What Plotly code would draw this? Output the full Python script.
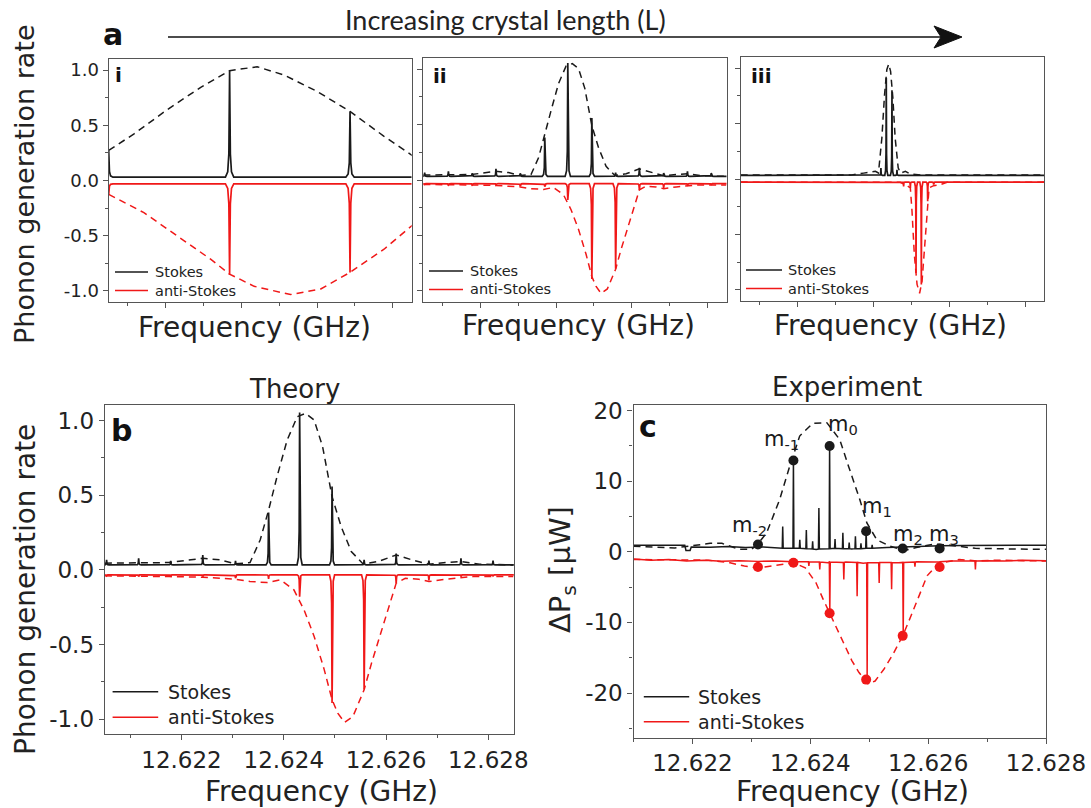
import plotly.graph_objects as go

W, H = 1091, 808
FONT = "DejaVu Sans"
BLACK = "#1a1a1a"
RED = "#f01818"
AX = "#555555"

# ---------------- data ----------------
# Panel a-i (short crystal)
ai_peak_f = [12.62050, 12.623692, 12.626872]
ai_stokes_h = [0.27, 0.994, 0.625]
ai_anti_h = [-0.126, -0.856, -0.832]
ai_env_f = [12.62050, 12.62116, 12.62204, 12.62293, 12.62369, 12.62442, 12.62513, 12.62601, 12.62687, 12.62777, 12.62852]
ai_env_stokes = [0.273, 0.42, 0.64, 0.844, 0.994, 1.03, 0.955, 0.805, 0.625, 0.40, 0.225]
ai_env_anti_f = [12.62050, 12.62143, 12.62231, 12.62319, 12.62369, 12.62434, 12.62530, 12.62610, 12.62687, 12.62777, 12.62852]
ai_env_anti = [-0.126, -0.291, -0.502, -0.712, -0.847, -0.958, -1.033, -0.982, -0.832, -0.622, -0.405]

# Panel a-ii and b (theory, same crystal length)
b_peak_f = [12.620535, 12.621162, 12.621789, 12.622416, 12.623056, 12.623703, 12.624310,
            12.624944, 12.625571, 12.626198, 12.626838, 12.627465, 12.628092]
b_stokes_h = [0.067, 0.078, 0.060, 0.100, 0.060, 0.384, 1.054, 0.558, 0.067, 0.110, 0.062, 0.078, 0.062]
b_anti_h = [-0.040, -0.045, -0.045, -0.045, -0.056, -0.060, -0.180, -0.893, -0.800, -0.090, -0.070, -0.045, -0.040]
b_env_f = [12.620502, 12.621096, 12.621756, 12.622416, 12.622746, 12.623056, 12.62334, 12.623538,
           12.623703, 12.623868, 12.624066, 12.624264, 12.624429, 12.624594, 12.624759, 12.624944,
           12.625122, 12.62532, 12.625551, 12.625848, 12.626198, 12.626508, 12.626838, 12.627168,
           12.627465, 12.627828, 12.628488]
b_env_stokes = [0.045, 0.049, 0.049, 0.078, 0.067, 0.040, 0.049, 0.20, 0.40, 0.625, 0.87, 1.027,
                1.049, 1.004, 0.826, 0.49, 0.29, 0.123, 0.040, 0.056, 0.10, 0.067, 0.038, 0.049,
                0.056, 0.038, 0.033]
b_env_anti_f = [12.620502, 12.621096, 12.621756, 12.622416, 12.622746, 12.623056, 12.62334, 12.62367,
                12.623934, 12.624198, 12.624396, 12.624594, 12.624792, 12.624944, 12.625056, 12.625188,
                12.625353, 12.625571, 12.625716, 12.625914, 12.626079, 12.626198, 12.626376, 12.62664,
                12.626838, 12.627168, 12.627696, 12.628488]
b_env_anti = [-0.040, -0.040, -0.045, -0.049, -0.056, -0.0625, -0.078, -0.085, -0.067, -0.134, -0.268,
              -0.446, -0.67, -0.87, -0.96, -1.022, -0.982, -0.804, -0.625, -0.402, -0.223, -0.089,
              -0.056, -0.0625, -0.078, -0.0625, -0.045, -0.045]

# Panel a-iii (long crystal)
aiii_stokes_f = [12.624195, 12.624336, 12.624486, 12.624618]
aiii_stokes_h = [0.099, 0.91, 0.80, 0.084]
aiii_anti_f = [12.624793, 12.624970, 12.625120, 12.625260, 12.625427, 12.625585]
aiii_anti_h = [-0.067, -0.080, -0.847, -0.952, -0.200, -0.050]
aiii_env_f = [12.6205, 12.6234, 12.62374, 12.62391, 12.62405, 12.62413, 12.62422, 12.62429, 12.62435,
              12.62440, 12.62445, 12.62451, 12.62457, 12.62465, 12.62471, 12.62484, 12.62497, 12.6253, 12.6285]
aiii_env_stokes = [0.035, 0.035, 0.053, 0.063, 0.069, 0.054, 0.37, 0.76, 0.985, 1.036, 0.97, 0.73, 0.37,
                   0.10, 0.053, 0.069, 0.045, 0.035, 0.035]
aiii_env_anti_f = [12.6205, 12.6246, 12.624705, 12.624882, 12.62497, 12.625014, 12.625075, 12.625147,
                   12.625215, 12.625279, 12.625339, 12.625411, 12.625464, 12.625585, 12.625762, 12.625939, 12.6285]
aiii_env_anti = [-0.028, -0.028, -0.03, -0.06, -0.08, -0.29, -0.68, -0.95, -1.03, -0.92, -0.68, -0.32,
                 -0.08, -0.06, -0.05, -0.03, -0.028]

# Panel c (experiment)
c_stokes_bl_f = [12.6210, 12.6215, 12.62187, 12.62189, 12.62196, 12.62198, 12.6223, 12.6226, 12.6229,
                 12.6232, 12.6235, 12.6238, 12.6241, 12.6244, 12.6247, 12.6250, 12.6253, 12.6256,
                 12.6259, 12.6262, 12.6266, 12.6270, 12.6275, 12.6280]
c_stokes_bl_y = [0.95, 0.95, 0.95, 0.2, 0.2, 0.7, 0.65, 0.75, 0.6, 0.7, 0.45, 0.5, 0.35, 0.55, 0.4,
                 0.5, 0.6, 0.7, 0.8, 0.85, 0.9, 0.95, 0.95, 0.95]
c_stokes_spk_f = [12.623532, 12.623714, 12.623822, 12.623933, 12.624040, 12.624146, 12.624328,
                  12.624420, 12.624553, 12.624660, 12.624766, 12.624860, 12.624948, 12.625050]
c_stokes_spk_top = [3.6, 12.94, 1.7, 3.1, 1.5, 6.2, 15.0, 1.8, 2.7, 1.3, 2.2, 1.2, 2.92, 1.0]
c_stokes_spk_base = [0.5, 0.5, 0.5, 0.45, 0.4, 0.4, 0.45, 0.5, 0.45, 0.45, 0.45, 0.45, 0.5, 0.5]
c_anti_bl_f = [12.6210, 12.6213, 12.6216, 12.6219, 12.6222, 12.6225, 12.6228, 12.6231, 12.6234, 12.6237,
               12.6240, 12.6243, 12.6246, 12.6249, 12.6252, 12.6255, 12.6258, 12.6261, 12.6264, 12.6267,
               12.6270, 12.6273, 12.6276, 12.6280]
c_anti_bl_y = [-1.0, -1.2, -1.1, -1.3, -1.2, -1.35, -1.25, -1.4, -1.3, -1.45, -1.4, -1.55, -1.45, -1.6,
               -1.5, -1.55, -1.4, -1.45, -1.3, -1.35, -1.25, -1.3, -1.2, -1.25]
c_anti_spk_f = [12.623112, 12.623714, 12.623976, 12.624161, 12.624331, 12.624569, 12.624795, 12.624965,
                12.625169, 12.625380, 12.625577, 12.625776, 12.626195, 12.626802]
c_anti_spk_bot = [-2.0, -1.8, -2.0, -2.5, -8.63, -3.9, -6.3, -18.07, -4.4, -5.3, -11.9, -2.1, -2.1, -2.5]
c_anti_spk_base = [-1.35, -1.4, -1.4, -1.45, -1.45, -1.5, -1.5, -1.55, -1.5, -1.5, -1.5, -1.45, -1.4, -1.3]
c_env_f = [12.6210, 12.6217, 12.6223, 12.6225, 12.6228, 12.6230, 12.6231, 12.62326, 12.62348, 12.62365,
           12.62382, 12.62404, 12.62428, 12.62450, 12.62465, 12.62484, 12.62496, 12.62513, 12.62535,
           12.6256, 12.6258, 12.6261, 12.6264, 12.6268, 12.6275, 12.6280]
c_env_stokes = [0.8, 0.55, 1.2, 1.2, 0.35, 0.35, 1.0, 2.7, 7.4, 12.1, 16.4, 18.2, 18.3, 15.9, 12.1, 7.4,
                4.1, 1.7, 0.8, 0.2, 0.6, 1.1, 0.9, 0.5, 0.4, 0.35]
c_env_anti_f = [12.620997, 12.621666, 12.622274, 12.622638, 12.622881, 12.623112, 12.623368, 12.623611,
                12.623714, 12.623915, 12.624097, 12.624219, 12.62434, 12.624462, 12.624584, 12.624705,
                12.624827, 12.624979, 12.6251, 12.625252, 12.625404, 12.625568, 12.625708, 12.62586,
                12.625982, 12.626134, 12.626286, 12.626529, 12.626833, 12.627137, 12.628]
c_env_anti = [-1.08, -1.18, -1.18, -1.55, -2.02, -2.3, -2.02, -1.65, -1.55, -2.26, -4.38, -6.73, -8.85,
              -10.96, -13.3, -15.4, -17.1, -18.7, -18.3, -16.6, -14.5, -11.9, -9.1, -5.8, -3.4, -2.0,
              -1.46, -1.08, -1.3, -1.18, -1.3]
c_m_f = [12.623112, 12.623714, 12.624328, 12.624948, 12.625568, 12.626195]
c_m_stokes = [1.04, 12.94, 15.0, 2.92, 0.47, 0.47]
c_m_anti = [-2.16, -1.55, -8.7, -18.1, -11.9, -2.16]
c_m_labels = ["m<sub>-2</sub>", "m<sub>-1</sub>", "m<sub>0</sub>", "m<sub>1</sub>", "m<sub>2</sub>", "m<sub>3</sub>"]
c_m_label_f = [12.622972, 12.623516, 12.624552, 12.625130, 12.625657, 12.626269]
c_m_label_y = [3.6, 15.9, 18.0, 6.3, 2.4, 2.4]

# baselines of the theory traces
stokes_base = 0.033
anti_base = -0.033

# ---------------- helpers ----------------
def px(x):
    return x / W

def py(y):
    return 1 - y / H

def spike_trace(x0, x1, base, pf, ph, hw):
    xs, ys = [x0], [base]
    prof = [(-1.0, 0.0), (-0.45, 0.05), (-0.18, 0.22), (0.0, 1.0), (0.18, 0.22), (0.45, 0.05), (1.0, 0.0)]
    for f, h in sorted(zip(pf, ph)):
        d = h - base
        for o, fr in prof:
            xs.append(f + o * hw)
            ys.append(base + fr * d)
    xs.append(x1)
    ys.append(base)
    return xs, ys

def exp_trace(bl_f, bl_y, sf, stop, sbase, hw):
    pts = list(zip(bl_f, bl_y))
    for f, t, b in zip(sf, stop, sbase):
        pts += [(f - hw, b), (f, t), (f + hw, b)]
    pts.sort(key=lambda p: p[0])
    return [p[0] for p in pts], [p[1] for p in pts]

fig = go.Figure()

panels = {
    1: dict(px=(108.7, 411.7), py=(59, 302), xr=(12.6205, 12.6285), yr=(-1.1, 1.1)),
    2: dict(px=(423.3, 726.7), py=(58, 302), xr=(12.6205, 12.6285), yr=(-1.1, 1.1)),
    3: dict(px=(740.7, 1044.3), py=(57, 301), xr=(12.6205, 12.6285), yr=(-1.1, 1.1)),
    4: dict(px=(104.8, 513.9), py=(405, 734), xr=(12.6205, 12.6285), yr=(-1.1, 1.105)),
    5: dict(px=(633.5, 1046.0), py=(405, 737.5), xr=(12.621, 12.628), yr=(-26.3, 20.8)),
}

def ax(n):
    return ("x" if n == 1 else f"x{n}"), ("y" if n == 1 else f"y{n}")

def add_line(n, x, y, color, dash=None, width=1.7):
    xa, ya = ax(n)
    fig.add_trace(go.Scatter(x=x, y=y, mode="lines", xaxis=xa, yaxis=ya,
                             line=dict(color=color, width=width, dash=dash or "solid"),
                             hoverinfo="skip", showlegend=False))

DASH = "7px,5px"

# a-i
add_line(1, ai_env_f, ai_env_stokes, BLACK, DASH, 1.5)
add_line(1, ai_env_anti_f, ai_env_anti, RED, DASH, 1.5)
xs, ys = spike_trace(12.6205, 12.6285, 0.03, ai_peak_f, ai_stokes_h, 0.00011)
add_line(1, xs, ys, BLACK)
xs, ys = spike_trace(12.6205, 12.6285, -0.03, ai_peak_f, ai_anti_h, 0.00011)
add_line(1, xs, ys, RED)

# a-ii and b (same theory curves)
for n, hw in [(2, 0.00007), (4, 0.00005)]:
    add_line(n, b_env_f, b_env_stokes, BLACK, DASH, 1.5)
    add_line(n, b_env_anti_f, b_env_anti, RED, DASH, 1.5)
    xs, ys = spike_trace(12.6205, 12.6285, stokes_base, b_peak_f, b_stokes_h, hw)
    add_line(n, xs, ys, BLACK)
    xs, ys = spike_trace(12.6205, 12.6285, anti_base, b_peak_f, b_anti_h, hw)
    add_line(n, xs, ys, RED)

# a-iii
add_line(3, aiii_env_f, aiii_env_stokes, BLACK, DASH, 1.5)
add_line(3, aiii_env_anti_f, aiii_env_anti, RED, DASH, 1.5)
xs, ys = spike_trace(12.6205, 12.6285, stokes_base, aiii_stokes_f, aiii_stokes_h, 0.00004)
add_line(3, xs, ys, BLACK)
xs, ys = spike_trace(12.6205, 12.6285, -0.028, aiii_anti_f, aiii_anti_h, 0.00004)
add_line(3, xs, ys, RED)

# c
add_line(5, c_env_f, c_env_stokes, BLACK, DASH, 1.5)
add_line(5, c_env_anti_f, c_env_anti, RED, DASH, 1.5)
xs, ys = exp_trace(c_stokes_bl_f, c_stokes_bl_y, c_stokes_spk_f, c_stokes_spk_top, c_stokes_spk_base, 0.000008)
add_line(5, xs, ys, BLACK, None, 1.5)
xs, ys = exp_trace(c_anti_bl_f, c_anti_bl_y, c_anti_spk_f, c_anti_spk_bot, c_anti_spk_base, 0.000008)
add_line(5, xs, ys, RED, None, 1.5)
fig.add_trace(go.Scatter(x=c_m_f, y=c_m_stokes, mode="markers", xaxis="x5", yaxis="y5",
                         marker=dict(color=BLACK, size=10), hoverinfo="skip", showlegend=False))
fig.add_trace(go.Scatter(x=c_m_f, y=c_m_anti, mode="markers", xaxis="x5", yaxis="y5",
                         marker=dict(color=RED, size=10), hoverinfo="skip", showlegend=False))

annotations = []
shapes = []

for lab, f, yv in zip(c_m_labels, c_m_label_f, c_m_label_y):
    annotations.append(dict(x=f, y=yv, xref="x5", yref="y5", text=lab, showarrow=False,
                            font=dict(family=FONT, size=21, color=BLACK), xanchor="center", yanchor="middle"))

layout = dict(width=W, height=H, margin=dict(l=0, r=0, t=0, b=0, autoexpand=False),
              paper_bgcolor="white", plot_bgcolor="white", showlegend=False)

for n, p in panels.items():
    xk = "xaxis" if n == 1 else f"xaxis{n}"
    yk = "yaxis" if n == 1 else f"yaxis{n}"
    xa, ya = ax(n)
    big = n >= 4
    tfs = 23 if big else 18
    xt = [12.622, 12.624, 12.626, 12.628]
    xm = [12.621, 12.623, 12.625, 12.627]
    layout[xk] = dict(domain=[px(p["px"][0]), px(p["px"][1])], range=list(p["xr"]), anchor=ya,
                      showline=True, linecolor=AX, linewidth=1.3, mirror=True,
                      ticks="outside", ticklen=5, tickwidth=1.2, tickcolor=AX,
                      tickvals=xt, ticktext=[f"{v:.3f}" for v in xt], showticklabels=big,
                      tickfont=dict(family=FONT, size=tfs, color="#222"),
                      minor=dict(ticks="outside", ticklen=3, tickwidth=1.0, tickcolor=AX, tickvals=xm),
                      showgrid=False, zeroline=False, automargin=False)
    if n == 5:
        yt = [-20, -10, 0, 10, 20]
        ytt = ["-20", "-10", "0", "10", "20"]
        ym = [-25, -15, -5, 5, 15]
    else:
        yt = [-1.0, -0.5, 0.0, 0.5, 1.0]
        ytt = ["-1.0", "-0.5", "0.0", "0.5", "1.0"]
        ym = [-0.75, -0.25, 0.25, 0.75]
    layout[yk] = dict(domain=[py(p["py"][1]), py(p["py"][0])], range=list(p["yr"]), anchor=xa,
                      showline=True, linecolor=AX, linewidth=1.3, mirror=True,
                      ticks="outside", ticklen=5, tickwidth=1.2, tickcolor=AX,
                      tickvals=yt, ticktext=ytt, showticklabels=(n in (1, 4, 5)),
                      tickfont=dict(family=FONT, size=tfs, color="#222"),
                      minor=dict(ticks="outside", ticklen=3, tickwidth=1.0, tickcolor=AX, tickvals=ym),
                      showgrid=False, zeroline=False, automargin=False)

def text(x, y, s, size, bold=False, angle=0, family=FONT, xanchor="center", color="#222"):
    annotations.append(dict(x=px(x), y=py(y), xref="paper", yref="paper",
                            text=(f"<b>{s}</b>" if bold else s), showarrow=False, textangle=angle,
                            font=dict(family=family, size=size, color=color),
                            xanchor=xanchor, yanchor="middle"))

# axis titles
text(255, 327, "Frequency (GHz)", 28)
text(578, 325, "Frequency (GHz)", 28)
text(890, 325, "Frequency (GHz)", 28)
text(321, 791, "Frequency (GHz)", 28)
text(852, 791, "Frequency (GHz)", 28)
text(25, 184, "Phonon generation rate", 27, angle=-90)
text(25, 590, "Phonon generation rate", 28, angle=-90)
text(562, 570, "ΔP<sub>s</sub> [μW]", 29, angle=-90)
text(294, 389, "Theory", 26)
text(847, 387, "Experiment", 26)

# panel labels
text(113, 34, "a", 30, bold=True, color="#111")
text(118, 75, "i", 20, bold=True, color="#111")
text(440, 76, "ii", 20, bold=True, color="#111")
text(761, 76, "iii", 20, bold=True, color="#111")
text(121, 430, "b", 30, bold=True, color="#111")
text(648, 426, "c", 30, bold=True, color="#111")

# top arrow
text(505, 19, "Increasing crystal length (L)", 27, family="Lato")
shapes.append(dict(type="line", xref="paper", yref="paper", x0=px(168), x1=px(945), y0=py(37), y1=py(37),
                   line=dict(color="#111", width=1.6)))
shapes.append(dict(type="path", xref="paper", yref="paper",
                   path=f"M {px(962)},{py(37)} L {px(934)},{py(26)} L {px(941)},{py(37)} L {px(934)},{py(48)} Z",
                   fillcolor="#111", line=dict(color="#111", width=1)))

# legends
legends = [
    (115, 148, 272, 290.5, 153, 14.5),
    (429, 463, 271, 289.5, 468, 14.5),
    (746, 782, 270, 288.5, 786, 14.5),
    (112.6, 158.2, 691.7, 717.3, 165.6, 19),
    (643.8, 689.2, 696.7, 721.7, 696.4, 19),
]
for x0, x1, y1, y2, tx, fs in legends:
    shapes.append(dict(type="line", xref="paper", yref="paper", x0=px(x0), x1=px(x1), y0=py(y1), y1=py(y1),
                       line=dict(color=BLACK, width=1.6)))
    shapes.append(dict(type="line", xref="paper", yref="paper", x0=px(x0), x1=px(x1), y0=py(y2), y1=py(y2),
                       line=dict(color=RED, width=1.6)))
    text(tx, y1, "Stokes", fs, xanchor="left")
    text(tx, y2, "anti-Stokes", fs, xanchor="left")

layout["annotations"] = annotations
layout["shapes"] = shapes
fig.update_layout(**layout)
fig.write_html("out.html")
